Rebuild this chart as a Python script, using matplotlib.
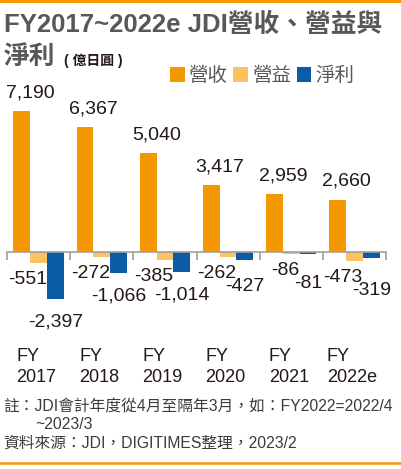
import matplotlib
matplotlib.use("Agg")
import matplotlib.pyplot as plt
import numpy as np
from matplotlib.lines import Line2D

plt.rcParams['font.family'] = ['Liberation Sans', 'Noto Sans CJK TC', 'DejaVu Sans']

# data (億日圓)
years = ["FY\n2017", "FY\n2018", "FY\n2019", "FY\n2020", "FY\n2021", "FY\n2022e"]
revenue = [7190, 6367, 5040, 3417, 2959, 2660]
op_income = [-551, -272, -385, -262, -86, -473]
net_income = [-2397, -1066, -1014, -427, -81, -319]
series_names = ["營收", "營益", "淨利"]

c_rev = "#F39800"
c_op = "#FCC260"
c_net = "#0B5CA6"
c_txt = "#231815"

W, H = 401, 469
fig = plt.figure(figsize=(W / 100, H / 100), dpi=100)

def fx(px):
    return px / W

def fy(py):
    return 1 - py / H

# axes placed so baseline sits where the reference has it
ymin, ymax = -3000, 8000
ax_top, ax_bot = 95.2, 310.8
ax = fig.add_axes([fx(7), fy(ax_bot), fx(386) - fx(7), (ax_bot - ax_top) / H])
ax.set_xlim(0, 6)
ax.set_ylim(ymin, ymax)
k = (ax_bot - ax_top) / (ymax - ymin)  # px per unit

x = np.arange(len(years)) + 0.5
w = 0.265
ax.bar(x - w, revenue, w, color=c_rev, label=series_names[0])
ax.bar(x, op_income, w, color=c_op, label=series_names[1])
ax.bar(x + w, net_income, w, color=c_net, label=series_names[2])

for s in ["top", "left", "right"]:
    ax.spines[s].set_visible(False)
ax.spines["bottom"].set_position(("data", 0))
ax.spines["bottom"].set_color("#A0A0A0")
ax.spines["bottom"].set_linewidth(1.2)
ax.set_yticks([])
ax.set_xticks(np.arange(7))
ax.set_xticklabels([])
ax.tick_params(axis="x", which="major", direction="out", length=6,
               width=1.2, color="#A0A0A0")
ax.set_xticks(x - 0.04, years, minor=True)
ax.tick_params(axis="x", which="minor", length=0, pad=69, labelsize=13,
               labelcolor=c_txt)
for t in ax.get_xticklabels(minor=True):
    t.set_multialignment("left")
    t.set_linespacing(1.35)
ax.patch.set_alpha(0)

# value labels
for i in range(len(years)):
    ax.annotate(f"{revenue[i]:,}", (x[i] - w / 2, revenue[i]),
                xytext=(0, 14), textcoords="offset pixels",
                ha="center", va="baseline", fontsize=14, color=c_txt)
    ax.annotate(f"{op_income[i]:,}", (x[i] + w / 2, op_income[i]),
                xytext=(0, -8), textcoords="offset pixels",
                ha="right", va="top", fontsize=14, color=c_txt)
    off = max(15, 21 + (abs(op_income[i]) - abs(net_income[i])) * k)
    ax.annotate(f"{net_income[i]:,}", (x[i] + w, net_income[i]),
                xytext=(0, -off), textcoords="offset pixels",
                ha="center", va="top", fontsize=14, color=c_txt)

# legend
leg = fig.legend(loc="center left", bbox_to_anchor=(fx(170), fy(76)), ncol=3,
                 frameon=False, fontsize=14, handlelength=0.75, handleheight=0.75,
                 handletextpad=0.2, columnspacing=0.3, borderpad=0, borderaxespad=0)
for t in leg.get_texts():
    t.set_color("#595757")

# title
fig.text(fx(4), fy(25), "FY2017~2022e JDI營收、營益與", fontsize=18.5,
         fontweight="bold", color="#595757", va="center", ha="left")
fig.text(fx(4), fy(57), "淨利", fontsize=18.5, fontweight="bold",
         color="#595757", va="center", ha="left")
fig.text(fx(64), fy(61), "( 億日圓 )", fontsize=10, fontweight="bold",
         color=c_txt, va="center", ha="left")

# notes
note_c = "#3E3A39"
fig.text(fx(3), fy(407), "註：JDI會計年度從4月至隔年3月，如：FY2022=2022/4",
         fontsize=11.3, color=note_c, va="center", ha="left")
fig.text(fx(35), fy(424), "~2023/3", fontsize=11.3, color=note_c,
         va="center", ha="left")
fig.text(fx(3), fy(443), "資料來源：JDI，DIGITIMES整理，2023/2",
         fontsize=11.3, color=note_c, va="center", ha="left")

# orange rules top and bottom
fig.add_artist(Line2D([0, 1], [fy(1.2), fy(1.2)], color=c_rev, lw=2.2))
fig.add_artist(Line2D([0, 1], [fy(463), fy(463)], color=c_rev, lw=1.8))

fig.savefig("out.png", dpi=100)
